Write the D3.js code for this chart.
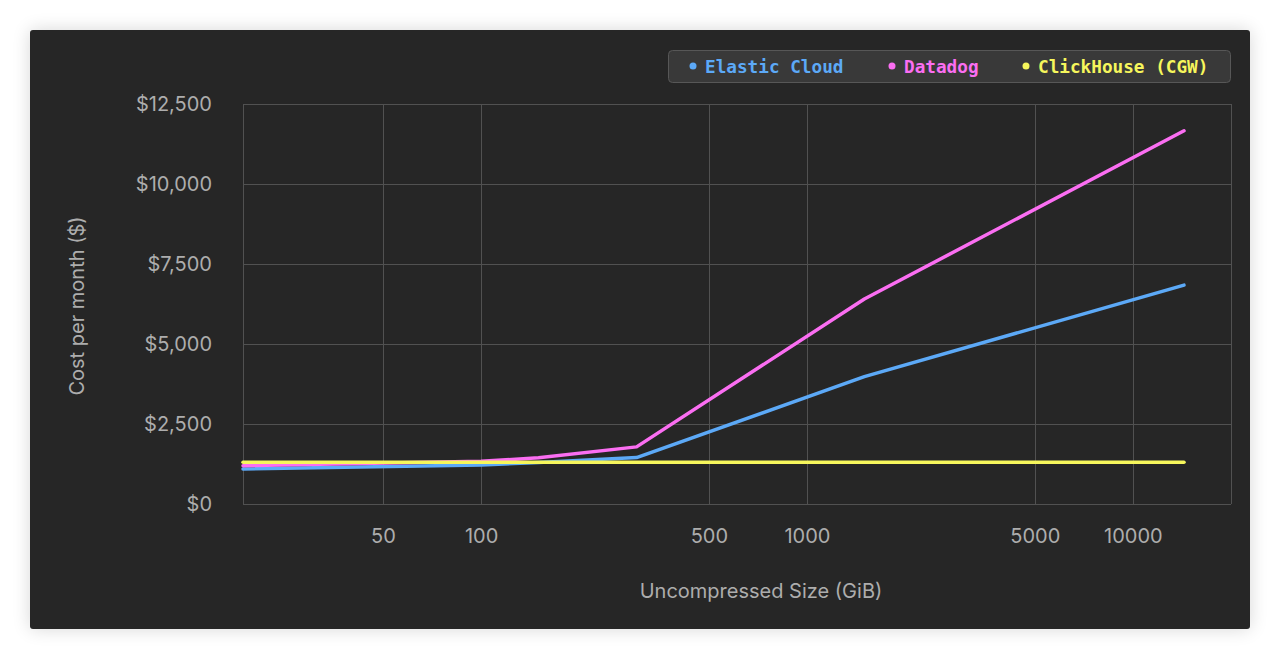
<!DOCTYPE html>
<html>
<head>
<meta charset="utf-8">
<script src="https://cdn.jsdelivr.net/npm/d3@7"></script>
<style>
  html, body { margin: 0; padding: 0; background: #ffffff; }
  body { width: 1281px; height: 660px; overflow: hidden; position: relative; }
  #panel {
    position: absolute; left: 30px; top: 30px; width: 1220px; height: 599px;
    background: #262626; border-radius: 3px;
    box-shadow: 0 0 18px rgba(0,0,0,0.16);
  }
  svg { position: absolute; left: 0; top: 0; }
</style>
</head>
<body>
<div id="panel"></div>
<svg id="chart" width="1281" height="660"></svg>
<script>
// ---- Data ----
const sizes = [18.6, 100, 150, 300, 1500, 14350];           // Uncompressed Size (GiB)
const elasticCloud = [1094, 1220, 1300, 1450, 3980, 6840];    // $ per month
const datadog = [1197, 1335, 1445, 1785, 6405, 11665];
const clickhouse = [1305, 1305, 1305, 1305, 1305, 1305];
const seriesNames = ["Elastic Cloud", "Datadog", "ClickHouse (CGW)"];
const seriesColors = ["#5ca9f7", "#fb6ef2", "#f6f65c"];
const xTickValues = [50, 100, 500, 1000, 5000, 10000];
const yTickValues = [0, 2500, 5000, 7500, 10000, 12500];
const xDomain = [18.6, 20000];
const yDomain = [0, 12500];

// ---- Layout ----
const plot = { left: 243, right: 1231, top: 104, bottom: 504 };
const svg = d3.select("#chart");
const x = d3.scaleLog().domain(xDomain).range([plot.left, plot.right]);
const y = d3.scaleLinear().domain(yDomain).range([plot.bottom, plot.top]);

const gridColor = "#515151";
const textColor = "#adadad";
const font = "Inter, 'Noto Sans', sans-serif";
const fs = "20px";

// grid
const g = svg.append("g");
g.selectAll(".hg").data(yTickValues).join("line")
  .attr("x1", plot.left).attr("x2", plot.right)
  .attr("y1", d => Math.round(y(d)) + 0.5).attr("y2", d => Math.round(y(d)) + 0.5)
  .attr("stroke", gridColor).attr("stroke-width", 1);
g.selectAll(".vg").data([xDomain[0], ...xTickValues, xDomain[1]]).join("line")
  .attr("x1", d => Math.round(x(d)) + 0.5).attr("x2", d => Math.round(x(d)) + 0.5)
  .attr("y1", plot.top).attr("y2", plot.bottom)
  .attr("stroke", gridColor).attr("stroke-width", 1);

// y axis labels
const yAxis = d3.axisLeft(y).tickValues(yTickValues).tickFormat(d3.format("$,")).tickSize(0).tickPadding(31);
const yg = svg.append("g").attr("transform", `translate(${plot.left},0)`).call(yAxis);
yg.select(".domain").remove();
yg.selectAll("text").attr("fill", textColor).style("font-family", font).style("font-size", fs);

// x axis labels
const xAxis = d3.axisBottom(x).tickValues(xTickValues).tickFormat(d3.format("d")).tickSize(0).tickPadding(25);
const xg = svg.append("g").attr("transform", `translate(0,${plot.bottom})`).call(xAxis);
xg.select(".domain").remove();
xg.selectAll("text").attr("fill", textColor).style("font-family", font).style("font-size", fs);

// axis titles
svg.append("text").attr("x", 761).attr("y", 598).attr("text-anchor", "middle")
  .attr("fill", textColor).style("font-family", font).style("font-size", fs)
  .text("Uncompressed Size (GiB)");
svg.append("text").attr("transform", "translate(84,306) rotate(-90)").attr("text-anchor", "middle")
  .attr("fill", textColor).style("font-family", font).style("font-size", fs)
  .text("Cost per month ($)");

// lines
const seriesValues = [elasticCloud, datadog, clickhouse];
const line = d3.line().x(d => x(d[0])).y(d => y(d[1]));
seriesValues.forEach((vals, i) => {
  svg.append("path")
    .datum(sizes.map((s, j) => [s, vals[j]]))
    .attr("d", line)
    .attr("fill", "none")
    .attr("stroke", seriesColors[i])
    .attr("stroke-width", 3.5)
    .attr("stroke-linejoin", "round")
    .attr("stroke-linecap", "round");
});

// legend
const lg = svg.append("g");
lg.append("rect").attr("x", 668.5).attr("y", 50.5).attr("width", 562).attr("height", 32)
  .attr("rx", 4).attr("fill", "#393939").attr("stroke", "#575757").attr("stroke-width", 1);
const legendX = [693, 892, 1026];
seriesNames.forEach((name, i) => {
  lg.append("circle").attr("cx", legendX[i]).attr("cy", 66).attr("r", 3.5).attr("fill", seriesColors[i]);
  lg.append("text").attr("x", legendX[i] + 12).attr("y", 67).attr("dy", "0.35em")
    .attr("fill", seriesColors[i])
    .style("font-family", "'DejaVu Sans Mono', 'Liberation Mono', monospace")
    .style("font-weight", "bold").style("font-size", "17.7px")
    .text(name);
});
</script>
</body>
</html>
